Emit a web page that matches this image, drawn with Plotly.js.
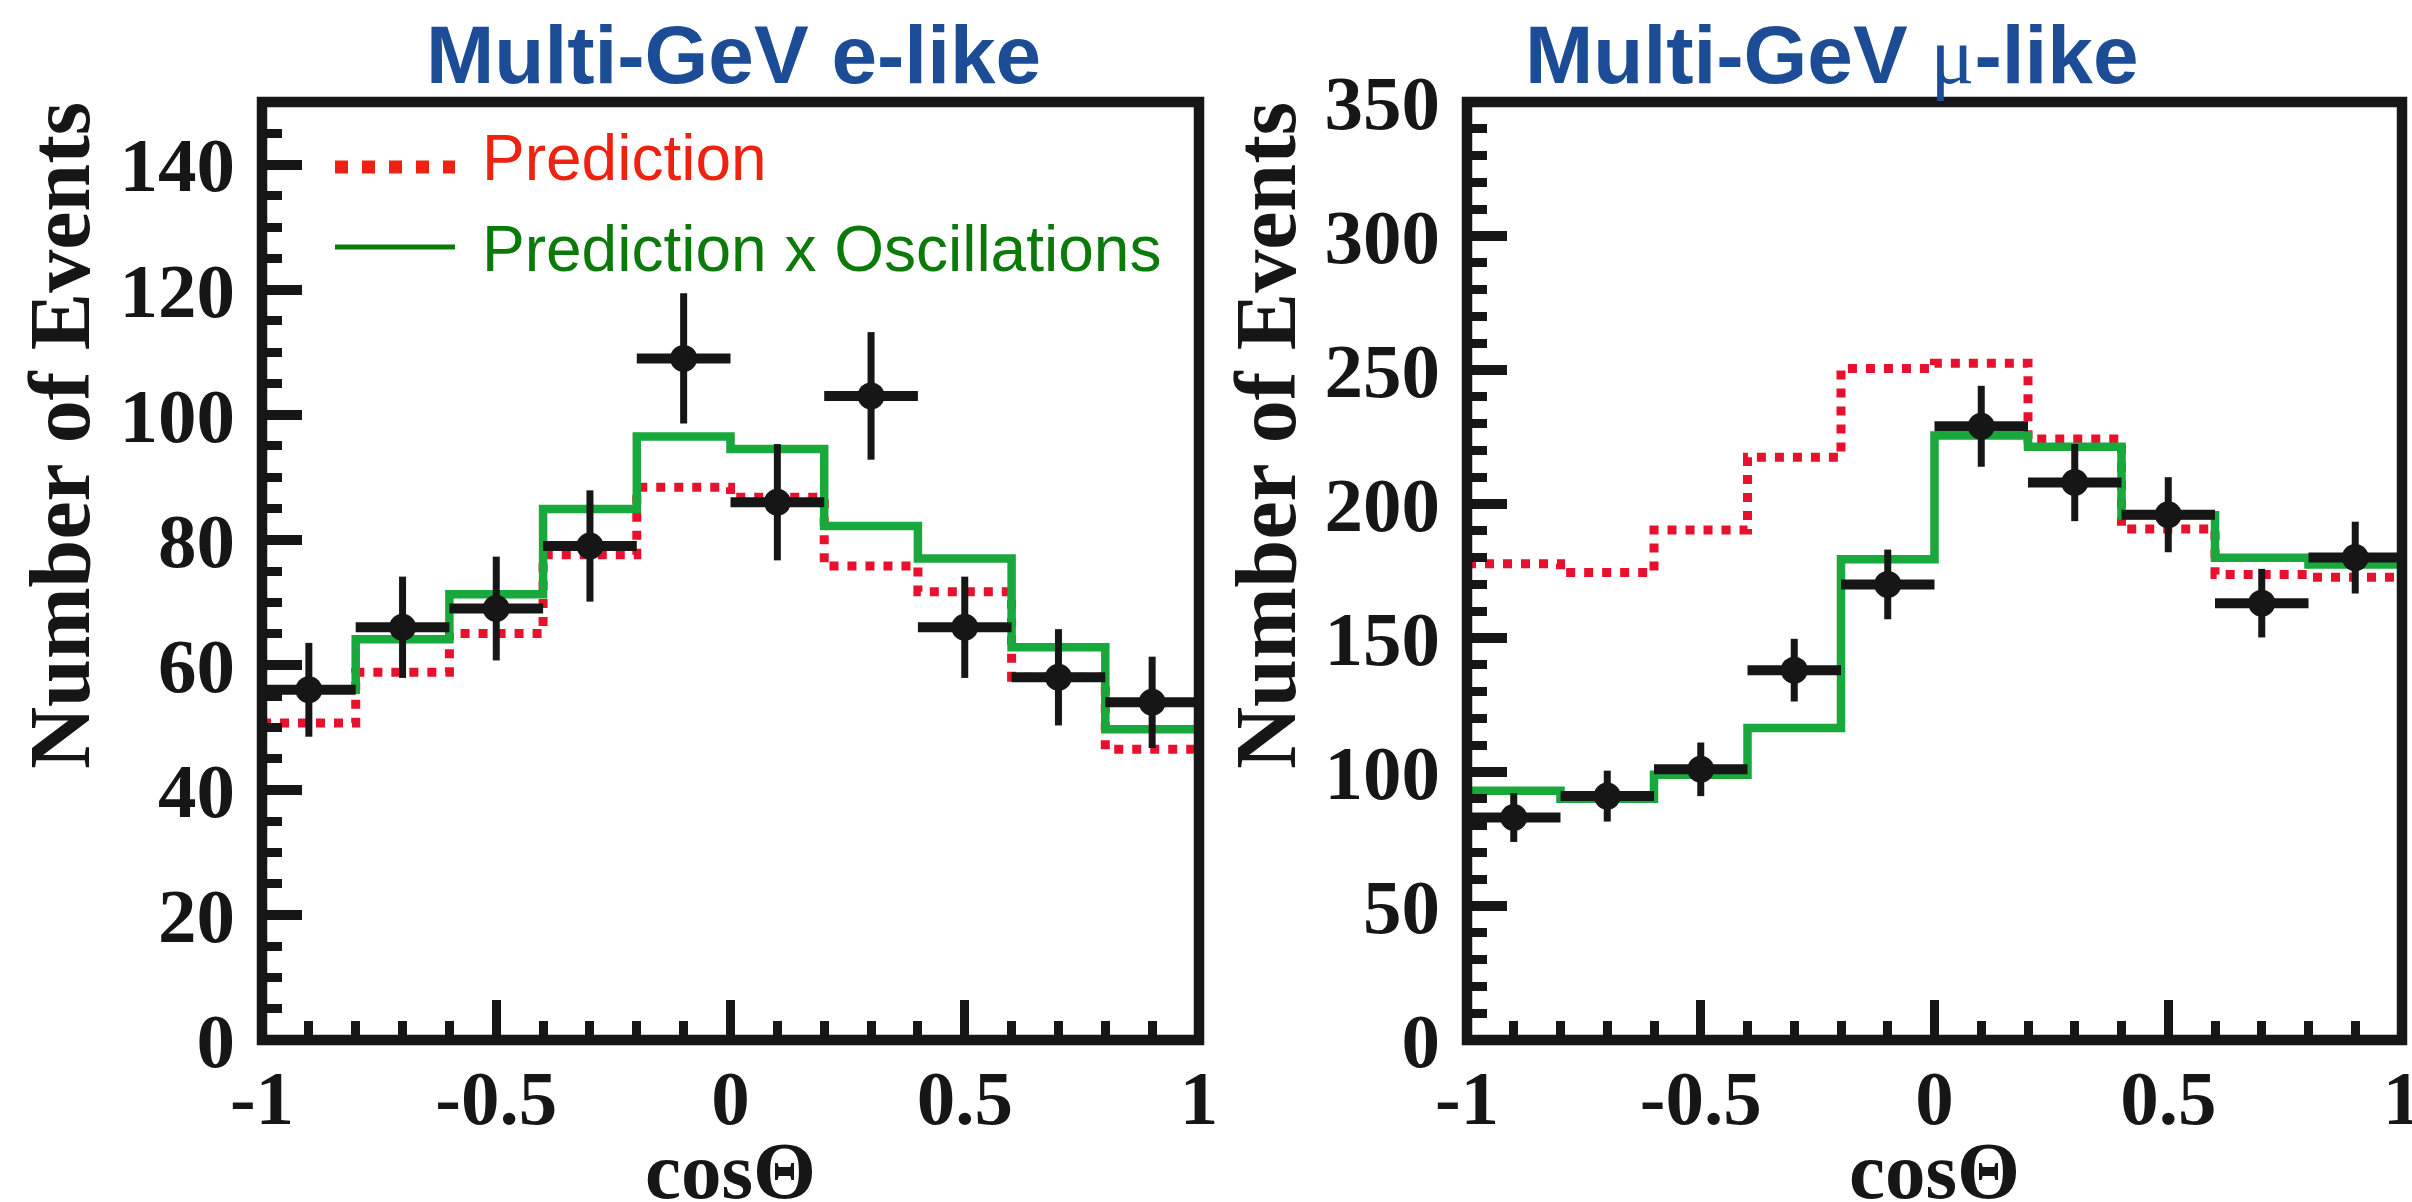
<!DOCTYPE html>
<html>
<head>
<meta charset="utf-8">
<script src="https://cdn.plot.ly/plotly-3.0.1.min.js"></script>
<style>
  html, body { margin: 0; padding: 0; background: #ffffff; }
  #chart { width: 2412px; height: 1202px; }
</style>
</head>
<body>
<div id="chart"></div>
<script>
// Zenith-angle distributions of Multi-GeV events, 10 bins in cos(Theta)
const binEdges = [-1, -0.8, -0.6, -0.4, -0.2, 0, 0.2, 0.4, 0.6, 0.8, 1];
const binCenters = [-0.9, -0.7, -0.5, -0.3, -0.1, 0.1, 0.3, 0.5, 0.7, 0.9];
const binHalfWidths = [0.1, 0.1, 0.1, 0.1, 0.1, 0.1, 0.1, 0.1, 0.1, 0.1];

// e-like sample
const eData = [56, 66, 69, 79, 109, 86, 103, 66, 58, 54];
const eErr = [7.5, 8.1, 8.3, 8.9, 10.4, 9.3, 10.2, 8.1, 7.7, 7.3];
const ePrediction = [50.7, 58.8, 65.0, 77.6, 88.4, 86.8, 75.8, 71.7, 58.0, 46.5];
const eOscillated = [56.0, 64.1, 71.3, 84.9, 96.5, 94.5, 82.2, 77.0, 62.8, 49.7];

// mu-like sample
const muData = [83, 91, 101, 138, 170, 229, 208, 196, 163, 180];
const muErr = [9.1, 9.5, 10.0, 11.7, 13.0, 15.1, 14.4, 14.0, 12.8, 13.4];
const muPrediction = [177.7, 174.4, 190.3, 217.4, 250.6, 252.5, 224.3, 190.7, 173.7, 172.7];
const muOscillated = [93, 90, 99, 116.4, 179.4, 225.6, 221.4, 195.8, 179.9, 177.4];

// Tick labels
const xTickVals = [-1, -0.5, 0, 0.5, 1];
const xTickText = ['-1', '-0.5', '0', '0.5', '1'];
const eTickVals = [0, 20, 40, 60, 80, 100, 120, 140];
const muTickVals = [0, 50, 100, 150, 200, 250, 300, 350];

const W = 2412, H = 1202;
const px = v => v / W;
const py = v => 1 - v / H;

const INK = '#161616';
const RED = '#e8112d';
const GREEN = '#19a83c';
const SERIF = '"Liberation Serif", "Times New Roman", serif';
const SANS = '"Liberation Sans", Arial, sans-serif';

// step line through the bin edges; the last bin value closes the final step
function stepTrace(vals, xa, ya, color, width, dash) {
  return {
    x: binEdges,
    y: vals.concat([vals[vals.length - 1]]),
    xaxis: xa, yaxis: ya,
    type: 'scatter', mode: 'lines',
    line: { shape: 'hv', color: color, width: width, dash: dash },
    showlegend: false, hoverinfo: 'skip'
  };
}

function dataTrace(vals, errs, xa, ya) {
  return {
    x: binCenters, y: vals,
    xaxis: xa, yaxis: ya,
    type: 'scatter', mode: 'markers',
    marker: { size: 27, color: INK },
    error_y: { type: 'data', array: errs, thickness: 7, width: 0, color: INK },
    error_x: { type: 'data', array: binHalfWidths, thickness: 10, width: 0, color: INK },
    showlegend: false, cliponaxis: false
  };
}

const traces = [
  stepTrace(ePrediction, 'x', 'y', RED, 9, '9px,9px'),
  stepTrace(eOscillated, 'x', 'y', GREEN, 8.5, 'solid'),
  dataTrace(eData, eErr, 'x', 'y'),
  stepTrace(muPrediction, 'x2', 'y2', RED, 9, '9px,9px'),
  stepTrace(muOscillated, 'x2', 'y2', GREEN, 8.5, 'solid'),
  dataTrace(muData, muErr, 'x2', 'y2')
];

const tickFont = { family: SERIF, size: 77, color: INK, weight: 'bold' };

function xAxis(domain, anchor) {
  return {
    domain: domain, anchor: anchor, range: [-1, 1],
    showline: false, zeroline: false, showgrid: false,
    ticks: 'inside', ticklen: 40, tickwidth: 9, tickcolor: INK,
    tickmode: 'array', tickvals: xTickVals, ticktext: xTickText,
    tickfont: tickFont, ticklabelstandoff: 6, ticklabeloverflow: 'allow',
    minor: { ticks: 'inside', tick0: 0, dtick: 0.1, ticklen: 19, tickwidth: 9, tickcolor: INK, showgrid: false },
    fixedrange: true
  };
}

function yAxis(domain, anchor, range, tickvals, minorStep) {
  return {
    domain: domain, anchor: anchor, range: range,
    showline: false, zeroline: false, showgrid: false,
    ticks: 'inside', ticklen: 40, tickwidth: 10, tickcolor: INK,
    tickmode: 'array', tickvals: tickvals, ticktext: tickvals.map(String),
    tickfont: tickFont, ticklabelstandoff: 26, ticklabeloverflow: 'allow',
    minor: { ticks: 'inside', tick0: 0, dtick: minorStep, ticklen: 20, tickwidth: 9, tickcolor: INK, showgrid: false },
    fixedrange: true
  };
}

const yDomain = [py(1040), py(102)];

const frame = (xr, yr) => ({
  type: 'rect', xref: xr + ' domain', yref: yr + ' domain',
  x0: 0, x1: 1, y0: 0, y1: 1,
  line: { color: INK, width: 10.5 }, layer: 'above'
});

const shapes = [
  frame('x', 'y'),
  frame('x2', 'y2'),
  // legend samples
  { type: 'line', xref: 'paper', yref: 'paper', x0: px(335), x1: px(455), y0: py(167), y1: py(167),
    line: { color: '#ee2211', width: 13, dash: '13px,14px' } },
  { type: 'line', xref: 'paper', yref: 'paper', x0: px(335), x1: px(455), y0: py(247), y1: py(247),
    line: { color: '#0b7a0b', width: 5 } }
];

const titleFont = { family: SANS, size: 82, color: '#1d4c97', weight: 'bold' };
const axisTitleFont = { family: SERIF, size: 86, color: INK, weight: 'bold' };
const xTitleFont = { family: SERIF, size: 81, color: INK, weight: 'bold' };

const annotations = [
  { text: 'Multi-GeV e-like', xref: 'paper', yref: 'paper', x: px(733), y: py(55),
    xanchor: 'center', yanchor: 'middle', showarrow: false, font: titleFont },
  { text: 'Multi-GeV <span style="font-family:\'Liberation Serif\';font-weight:normal">μ</span>-like',
    xref: 'paper', yref: 'paper', x: px(1832), y: py(55),
    xanchor: 'center', yanchor: 'middle', showarrow: false, font: titleFont },
  { text: 'Number of Events', xref: 'paper', yref: 'paper', x: px(60), y: py(436), textangle: -90,
    xanchor: 'center', yanchor: 'middle', showarrow: false, font: axisTitleFont },
  { text: 'Number of Events', xref: 'paper', yref: 'paper', x: px(1266), y: py(436), textangle: -90,
    xanchor: 'center', yanchor: 'middle', showarrow: false, font: axisTitleFont },
  { text: 'cosΘ', xref: 'paper', yref: 'paper', x: px(730), y: py(1171),
    xanchor: 'center', yanchor: 'middle', showarrow: false, font: xTitleFont },
  { text: 'cosΘ', xref: 'paper', yref: 'paper', x: px(1934), y: py(1171),
    xanchor: 'center', yanchor: 'middle', showarrow: false, font: xTitleFont },
  { text: 'Prediction', xref: 'paper', yref: 'paper', x: px(480), y: py(158),
    xanchor: 'left', yanchor: 'middle', showarrow: false, font: { family: SANS, size: 64, color: '#ee2211' } },
  { text: 'Prediction x Oscillations', xref: 'paper', yref: 'paper', x: px(480), y: py(249),
    xanchor: 'left', yanchor: 'middle', showarrow: false, font: { family: SANS, size: 64, color: '#0b7a0b' } }
];

const layout = {
  width: W, height: H, autosize: false,
  margin: { l: 0, r: 0, t: 0, b: 0, pad: 0 },
  paper_bgcolor: '#ffffff', plot_bgcolor: '#ffffff',
  showlegend: false,
  xaxis: xAxis([px(262), px(1199)], 'y'),
  yaxis: yAxis(yDomain, 'x', [0, 150], eTickVals, 5),
  xaxis2: xAxis([px(1467), px(2402)], 'y2'),
  yaxis2: yAxis(yDomain, 'x2', [0, 350], muTickVals, 10),
  shapes: shapes,
  annotations: annotations
};

Plotly.newPlot('chart', traces, layout, { staticPlot: true, displayModeBar: false });
</script>
</body>
</html>
